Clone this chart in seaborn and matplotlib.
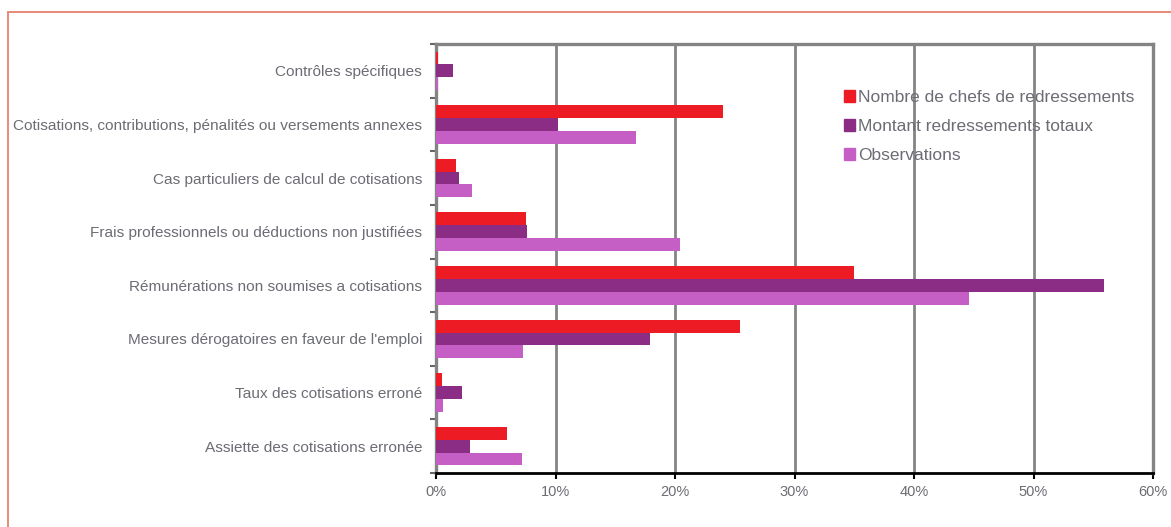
import matplotlib
matplotlib.use("Agg")
import matplotlib.pyplot as plt
import matplotlib.patches as mpatches
from matplotlib.ticker import FixedLocator, PercentFormatter
import seaborn as sns
import pandas as pd

# Data (percent)
categories = [
    "Contrôles spécifiques",
    "Cotisations, contributions, pénalités ou versements annexes",
    "Cas particuliers de calcul de cotisations",
    "Frais professionnels ou déductions non justifiées",
    "Rémunérations non soumises a cotisations",
    "Mesures dérogatoires en faveur de l'emploi",
    "Taux des cotisations erroné",
    "Assiette des cotisations erronée",
]
series = ["Nombre de chefs de redressements", "Montant redressements totaux", "Observations"]
nombre_chefs = [0.15, 24.0, 1.7, 7.5, 35.0, 25.4, 0.5, 5.9]
montant_totaux = [1.4, 10.2, 1.9, 7.6, 55.9, 17.9, 2.15, 2.85]
observations = [0.2, 16.7, 3.0, 20.4, 44.6, 7.3, 0.6, 7.2]
colors = ["#ED1C24", "#8B2D85", "#C55FC5"]

rows = []
for name, vals in zip(series, [nombre_chefs, montant_totaux, observations]):
    for cat, v in zip(categories, vals):
        rows.append({"cat": cat, "serie": name, "val": v})
df = pd.DataFrame(rows)

sns.set_style("white")
plt.rcParams["font.family"] = ["Liberation Sans", "DejaVu Sans"]
txt = "#6C6C74"

fig = plt.figure(figsize=(11.71, 5.27), dpi=100)
ax = fig.add_axes([436 / 1171, 1 - 473 / 527, (1153 - 436) / 1171, (473 - 44) / 527])

sns.barplot(data=df, x="val", y="cat", hue="serie", orient="h",
            order=categories, hue_order=series, palette=colors,
            width=0.72, ax=ax, saturation=1, legend=False,
            edgecolor="none", zorder=3)

ax.set_xlim(0, 60)
ax.set_ylim(len(categories) - 0.5, -0.5)
ax.xaxis.set_major_locator(FixedLocator(range(0, 61, 10)))
ax.xaxis.set_major_formatter(PercentFormatter(decimals=0))
for x in range(10, 60, 10):
    ax.axvline(x, color="#848484", lw=2.0, zorder=1)

ax.set_xlabel("")
ax.set_ylabel("")
ax.tick_params(axis="x", colors="black", labelcolor=txt, labelsize=10.5,
               direction="out", length=4, width=1.5, bottom=True, pad=5)
ax.tick_params(axis="y", which="major", length=0, labelcolor=txt, labelsize=11.1, pad=10)
ax.yaxis.set_minor_locator(FixedLocator([i - 0.5 for i in range(len(categories) + 1)]))
ax.tick_params(axis="y", which="minor", left=True, length=4, width=1.5,
               color="#666666", direction="out")

for side in ["top", "right", "left"]:
    ax.spines[side].set_visible(True)
    ax.spines[side].set_color("#848484")
    ax.spines[side].set_linewidth(2.4)
ax.spines["bottom"].set_color("black")
ax.spines["bottom"].set_linewidth(2)

handles = [mpatches.Patch(color=c, label=s) for c, s in zip(colors, series)]
leg = fig.legend(handles=handles, loc="upper left", bbox_to_anchor=(837 / 1171, 1 - 83 / 527),
                 frameon=False, fontsize=12.5, handlelength=0.65, handleheight=0.7,
                 handletextpad=0.15, labelspacing=0.8, borderaxespad=0)
for t in leg.get_texts():
    t.set_color(txt)

# light red frame around the chart area
fig.add_artist(mpatches.Rectangle((8 / 1171, -0.05), 1.1, 1 - 12 / 527 + 0.05,
                                  transform=fig.transFigure, fill=False,
                                  edgecolor="#E8806E", lw=1.3))

fig.savefig("out.png", dpi=100)
